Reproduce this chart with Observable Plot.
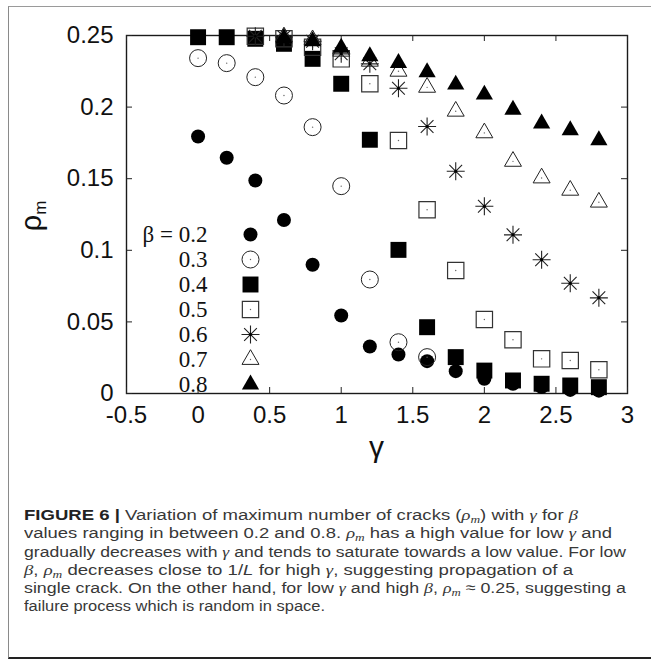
<!DOCTYPE html>
<html><head><meta charset="utf-8">
<script src="https://cdn.jsdelivr.net/npm/d3@7"></script>
<script src="https://cdn.jsdelivr.net/npm/@observablehq/plot@0.6"></script>
<style>
html,body{margin:0;padding:0;background:#fff;}
body{width:651px;height:660px;overflow:hidden;position:relative;font-family:"Liberation Sans",Arial,sans-serif;}
#box{position:absolute;left:8px;top:6px;width:700px;height:650px;border-left:1px solid #8a8a8a;border-top:1px solid #9a9a9a;border-bottom:2px solid #222;}
#chart{position:absolute;left:0;top:0;}
#caption{position:absolute;left:24px;top:506px;font-size:15.5px;line-height:18.3px;color:#383838;white-space:nowrap;}
#caption .ln{display:block;transform-origin:0 50%;width:max-content;}
#caption b{color:#222;}
#caption i.g{font-family:"Liberation Serif",serif;font-style:italic;}
#caption sub{font-size:0.72em;line-height:0;vertical-align:-0.3em;}
</style></head><body>
<div id="box"></div>
<div id="chart"></div>
<div id="caption">
<span class="ln"><b>FIGURE 6 |</b> Variation of maximum number of cracks (<i class="g">ρ<sub>m</sub></i>) with <i class="g">γ</i> for <i class="g">β</i></span>
<span class="ln">values ranging in between 0.2 and 0.8. <i class="g">ρ<sub>m</sub></i> has a high value for low <i class="g">γ</i> and</span>
<span class="ln">gradually decreases with <i class="g">γ</i> and tends to saturate towards a low value. For low</span>
<span class="ln"><i class="g">β</i>, <i class="g">ρ<sub>m</sub></i> decreases close to 1/<i>L</i> for high <i class="g">γ</i>, suggesting propagation of a</span>
<span class="ln">single crack. On the other hand, for low <i class="g">γ</i> and high <i class="g">β</i>, <i class="g">ρ<sub>m</sub></i> ≈ 0.25, suggesting a</span>
<span class="ln">failure process which is random in space.</span>
</div>
<script>
// ---- data ----
const gamma = [0, 0.2, 0.4, 0.6, 0.8, 1.0, 1.2, 1.4, 1.6, 1.8, 2.0, 2.2, 2.4, 2.6, 2.8];
const betas = ["0.2", "0.3", "0.4", "0.5", "0.6", "0.7", "0.8"];
const rho_b02 = [0.1795, 0.1646, 0.1487, 0.1212, 0.0899, 0.0545, 0.0328, 0.0272, 0.0226, 0.0156, 0.0103, 0.0068, 0.0045, 0.0025, 0.0020];
const rho_b03 = [0.2342, 0.2307, 0.2209, 0.2081, 0.1860, 0.1448, 0.0796, 0.0358, 0.0254, null, null, null, null, null, null];
const rho_b04 = [0.2488, 0.2488, 0.2477, 0.2442, 0.2337, 0.2163, 0.1772, 0.1003, 0.0463, 0.0254, 0.0160, 0.0091, 0.0068, 0.0056, 0.0044];
const rho_b05 = [null, null, 0.2495, 0.2477, 0.2418, 0.2337, 0.2163, 0.1767, 0.1283, 0.0859, 0.0517, 0.0375, 0.0242, 0.0230, 0.0166];
const rho_b06 = [null, null, 0.2495, 0.2490, 0.2460, 0.2372, 0.2302, 0.2132, 0.1865, 0.1552, 0.1308, 0.1108, 0.0934, 0.0770, 0.0668];
const rho_b07 = [null, null, null, 0.2490, 0.2470, 0.2390, 0.2320, 0.2250, 0.2138, 0.1971, 0.1820, 0.1621, 0.1505, 0.1419, 0.1336];
const rho_b08 = [null, null, null, 0.2481, 0.2460, 0.2415, 0.2355, 0.2308, 0.2243, 0.2157, 0.2087, 0.1982, 0.1885, 0.1838, 0.1769];
const legendLabels = ["β = 0.2", "0.3", "0.4", "0.5", "0.6", "0.7", "0.8"];
const xTicks = [-0.5, 0, 0.5, 1, 1.5, 2, 2.5, 3];
const xTickLabels = ["-0.5", "0", "0.5", "1", "1.5", "2", "2.5", "3"];
const yTicks = [0, 0.05, 0.1, 0.15, 0.2, 0.25];
const yTickLabels = ["0", "0.05", "0.1", "0.15", "0.2", "0.25"];
const xLabel = "γ";
const yLabel = "ρ";
const yLabelSub = "m";

const seriesValues = [rho_b02, rho_b03, rho_b04, rho_b05, rho_b06, rho_b07, rho_b08];

// ---- symbols / styles ----
const star8 = {
  draw(ctx, size) {
    const r = Math.sqrt(size / Math.PI), d = r * Math.SQRT1_2;
    ctx.moveTo(-r, 0); ctx.lineTo(r, 0);
    ctx.moveTo(0, -r); ctx.lineTo(0, r);
    ctx.moveTo(-d, -d); ctx.lineTo(d, d);
    ctx.moveTo(-d, d); ctx.lineTo(d, -d);
  }
};
const styles = [
  {symbol: "circle", r: 7, fill: "#000", stroke: "none"},
  {symbol: "circle", r: 8.5, fill: "none", stroke: "#222", strokeWidth: 1},
  {symbol: "square", r: 9, fill: "#000", stroke: "none"},
  {symbol: "square", r: 9.2, fill: "none", stroke: "#333", strokeWidth: 1.2},
  {symbol: star8, r: 9, fill: "none", stroke: "#222", strokeWidth: 1.1},
  {symbol: "triangle", r: 6.3, fill: "none", stroke: "#222", strokeWidth: 1},
  {symbol: "triangle", r: 6.4, fill: "#000", stroke: "none"}
];
const centerDot = [null, {r: 0.7, fill: "#666"}, null, {r: 0.7, fill: "#666"}, {r: 1.5, fill: "#000"}, {r: 0.7, fill: "#666"}, null];

const tables = seriesValues.map((vals, i) =>
  gamma.map((g, j) => ({gamma: g, rho: vals[j], beta: betas[i]})).filter(d => d.rho != null));

// ---- layout ----
const W = 651, H = 480, mL = 126, mR = 24, mT = 35, mB = 87;
const innerW = W - mL - mR, innerH = H - mT - mB;
const tick = 6;

const marks = [
  Plot.frame({stroke: "#1a1a1a", strokeWidth: 1.4}),
  Plot.tickX(xTicks, {x: d => d, insetTop: innerH - tick, stroke: "#222"}),
  Plot.tickX(xTicks, {x: d => d, insetBottom: innerH - tick, stroke: "#222"}),
  Plot.tickY(yTicks, {y: d => d, insetRight: innerW - tick, stroke: "#222"}),
  Plot.tickY(yTicks, {y: d => d, insetLeft: innerW - tick, stroke: "#222"}),
  Plot.axisX(xTicks, {anchor: "bottom", tickSize: 0, tickPadding: 12, tickFormat: (d) => xTickLabels[xTicks.indexOf(d)], fontSize: 24, fill: "#111", label: null}),
  Plot.axisY(yTicks, {anchor: "left", tickSize: 0, tickPadding: 13, tickFormat: (d) => yTickLabels[yTicks.indexOf(d)], fontSize: 24, fill: "#111", label: null})
];

tables.forEach((rows, i) => {
  marks.push(Plot.dot(rows, {x: "gamma", y: "rho", ...styles[i]}));
  if (centerDot[i]) marks.push(Plot.dot(rows, {x: "gamma", y: "rho", ...centerDot[i]}));
});

// legend (inside plot, top-left anchored)
legendLabels.forEach((lab, i) => {
  const dy = 199 + 25 * i;
  marks.push(Plot.text([lab], {frameAnchor: "top-left", lineAnchor: "middle", dx: 81, dy, text: d => d, textAnchor: "end",
    fontFamily: "Liberation Serif", fontSize: 23, fill: "#111"}));
  marks.push(Plot.dot([lab], {frameAnchor: "top-left", dx: 124, dy, ...styles[i]}));
  if (centerDot[i]) marks.push(Plot.dot([lab], {frameAnchor: "top-left", dx: 124, dy, ...centerDot[i]}));
});

const chart = Plot.plot({
  width: W, height: H,
  marginLeft: mL, marginRight: mR, marginTop: mT, marginBottom: mB,
  x: {domain: [-0.5, 3], axis: null},
  y: {domain: [0, 0.25], axis: null},
  style: {background: "transparent", fontFamily: "Liberation Sans, Arial, sans-serif", color: "#111", overflow: "visible"},
  marks
});
document.getElementById("chart").appendChild(chart);

// axis titles
const svg = d3.select(chart);
svg.append("text")
  .attr("transform", `translate(41,216) rotate(-90)`)
  .attr("text-anchor", "middle")
  .attr("font-family", "Liberation Sans, Arial, sans-serif")
  .attr("font-size", 29).attr("fill", "#111")
  .call(t => {
    t.append("tspan").text(yLabel);
    t.append("tspan").attr("font-size", 17).attr("dy", 5).text(yLabelSub);
  });
svg.append("text")
  .attr("x", mL + innerW / 2).attr("y", 457)
  .attr("text-anchor", "middle")
  .attr("font-family", "Liberation Sans, Arial, sans-serif")
  .attr("font-size", 30).attr("fill", "#111")
  .text(xLabel);

// fit caption lines to the reference widths
const targets = [554, 588, 602, 549, 602, 301];
document.querySelectorAll("#caption .ln").forEach((el, i) => {
  const w = el.getBoundingClientRect().width;
  if (w > 0) el.style.transform = `scaleX(${targets[i] / w})`;
});
</script>
</body></html>
